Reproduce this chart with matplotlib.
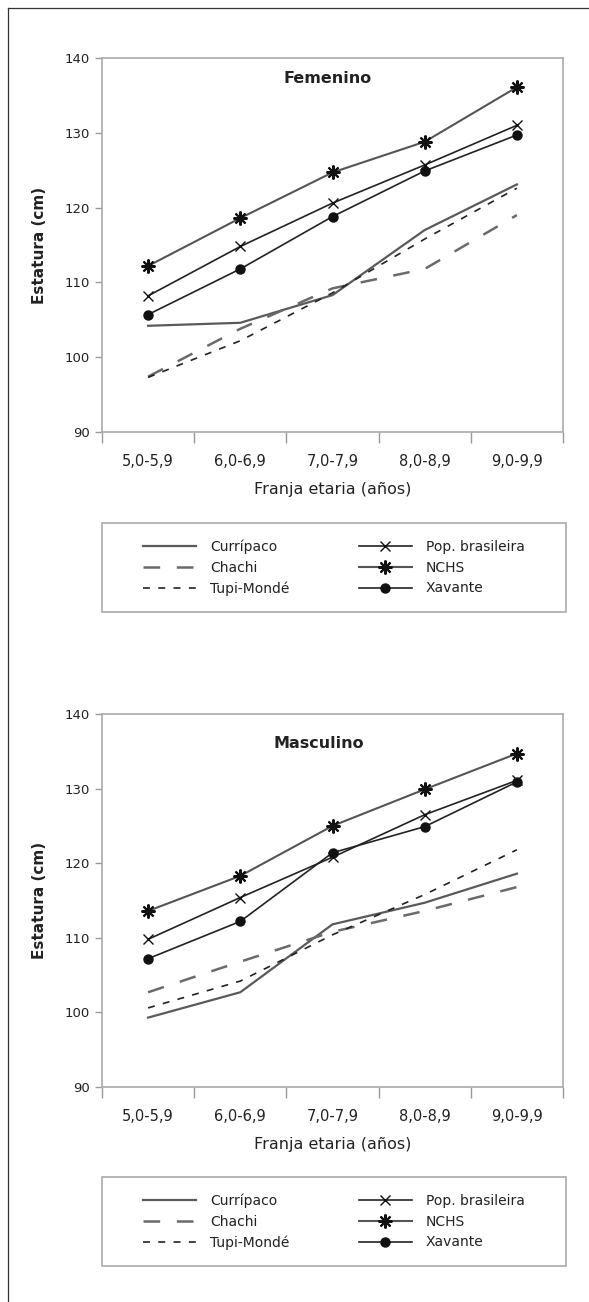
import matplotlib
matplotlib.use('Agg')
import matplotlib.pyplot as plt
from matplotlib.lines import Line2D
from matplotlib.patches import Rectangle
import numpy as np

plt.rcParams['font.family'] = ['DejaVu Sans']
plt.rcParams['lines.scale_dashes'] = False

# Datos
franjas = ['5,0-5,9', '6,0-6,9', '7,0-7,9', '8,0-8,9', '9,0-9,9']
series = ['Currípaco', 'Chachi', 'Tupi-Mondé', 'Pop. brasileira', 'NCHS', 'Xavante']

curripaco_f = [104.2, 104.6, 108.3, 117.0, 123.1]
chachi_f = [97.4, 103.8, 109.2, 111.8, 119.0]
tupi_f = [97.3, 102.2, 108.6, 115.8, 122.6]
pop_f = [108.2, 114.8, 120.6, 125.7, 131.0]
nchs_f = [112.2, 118.6, 124.7, 128.8, 136.1]
xavante_f = [105.7, 111.8, 118.8, 124.9, 129.7]

curripaco_m = [99.3, 102.7, 111.8, 114.7, 118.6]
chachi_m = [102.7, 106.8, 110.8, 113.6, 116.8]
tupi_m = [100.6, 104.2, 110.4, 115.8, 121.8]
pop_m = [109.8, 115.4, 120.8, 126.5, 131.1]
nchs_m = [113.6, 118.3, 125.0, 129.9, 134.7]
xavante_m = [107.2, 112.2, 121.4, 124.9, 130.9]

# estilos de cada serie
estilos = [
    dict(color='#5a5a5a', lw=1.6, ls='-'),
    dict(color='#6a6a6a', lw=1.8, ls=(0, (12, 12))),
    dict(color='#222222', lw=1.2, ls=(0, (5, 6))),
    dict(color='#222222', lw=1.2, ls='-', marker='x', ms=7.5, mew=1.0, mec='#111111'),
    dict(color='#555555', lw=1.5, ls='-', marker=(8, 2, 0), ms=10, mew=1.5,
         mec='#111111'),
    dict(color='#222222', lw=1.2, ls='-', marker='o', ms=6.5, mfc='#111111',
         mec='#111111'),
]

W, H = 589, 1302
fig = plt.figure(figsize=(W / 100, H / 100), dpi=100)

# marco de la página (izquierda y arriba)
fig.add_artist(Line2D([8 / W, 8 / W], [0, 1 - 8 / H], color='#333333', lw=0.9))
fig.add_artist(Line2D([8 / W, 1], [1 - 8 / H, 1 - 8 / H], color='#333333', lw=0.9))

x = np.arange(len(franjas))


def panel(y_top, y_bot, datos, titulo, tx, ty, leg_top, leg_bot):
    ax = fig.add_axes([102 / W, 1 - y_bot / H, (563 - 102) / W, (y_bot - y_top) / H])
    for vals, nombre, st in zip(datos, series, estilos):
        ax.plot(x, vals, label=nombre, **st)
    ax.set_xlim(-0.5, 4.5)
    ax.set_ylim(90, 140)
    ax.set_yticks(np.arange(90, 141, 10))
    ax.set_xticks(np.arange(-0.5, 4.6, 1))
    ax.set_xticklabels([])
    ax.set_xticks(x, minor=True)
    ax.set_xticklabels(franjas, minor=True, fontsize=10.5, color='#222222')
    ax.tick_params(axis='x', which='major', length=8, color='#999999', width=1)
    ax.tick_params(axis='x', which='minor', length=0, pad=16)
    ax.tick_params(axis='y', length=5, color='#999999', width=1, labelsize=9.5,
                   labelcolor='#222222', pad=4)
    for s in ax.spines.values():
        s.set_color('#aaaaaa')
        s.set_linewidth(1.2)
    ax.set_ylabel('Estatura (cm)', fontsize=11, fontweight='bold', color='#222222')
    ax.yaxis.set_label_coords(-0.12, 0.5)
    ax.set_xlabel('Franja etaria (años)', fontsize=11.5, color='#222222')
    ax.xaxis.set_label_coords(0.5, -0.135)
    ax.text(tx, ty, titulo, transform=ax.transAxes, ha='center', va='center',
            fontsize=11.5, fontweight='bold', color='#222222')

    # caja de la leyenda
    fig.add_artist(Rectangle((102 / W, 1 - leg_bot / H), (566 - 102) / W,
                             (leg_bot - leg_top) / H, transform=fig.transFigure,
                             fill=False, edgecolor='#aaaaaa', lw=1.2))
    h, l = ax.get_legend_handles_labels()
    fig.legend(h, l, loc='center', ncol=2, frameon=False, fontsize=10,
               bbox_to_anchor=(334 / W, 1 - (leg_top + leg_bot) / 2 / H),
               handlelength=3.8, handletextpad=1.0, columnspacing=5.0,
               labelspacing=0.5, labelcolor='#222222')
    return ax


panel(58, 432, [curripaco_f, chachi_f, tupi_f, pop_f, nchs_f, xavante_f],
      'Femenino', 0.49, 0.944, 523, 612)
panel(714, 1087, [curripaco_m, chachi_m, tupi_m, pop_m, nchs_m, xavante_m],
      'Masculino', 0.47, 0.92, 1177, 1266)

fig.savefig('out.png', dpi=100)
